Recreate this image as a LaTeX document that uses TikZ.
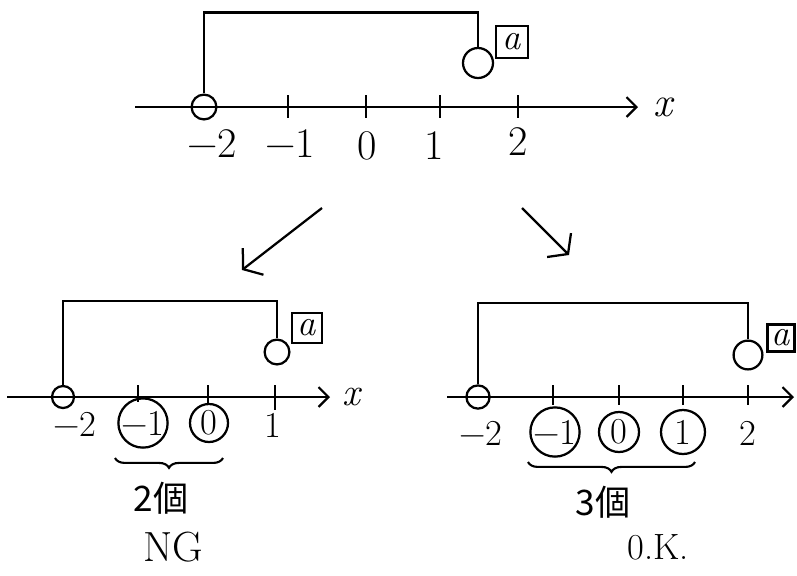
\documentclass[tikz,border=0pt]{standalone}
\usepackage{fontspec}
\usepackage{tikz}
\usetikzlibrary{positioning, arrows.meta, decorations.pathreplacing}
\newfontfamily\cjk{Noto Sans CJK JP}

\begin{document}
\begin{tikzpicture}[
  x=0.025cm, y=-0.025cm,
  line width=1.6pt,
  % --- Styles ---
  axisline/.style={-{Straight Barb[length=7pt, width=14pt, line width=1.6pt]}},
  tickmark/.style={line width=1.8pt},
  hole/.style={circle, draw, line width=1.6pt, inner sep=0pt, minimum size=#1},
  hole/.default=0.62cm,
  ring/.style={circle, draw, line width=1.6pt, inner sep=0pt,
    minimum size=#1, font=\fontsize{26}{26}\selectfont},
  abox/.style={rectangle, draw, line width=1.6pt, inner sep=0pt,
    minimum width=#1, minimum height=#1, font=\itshape\fontsize{26}{28}\selectfont},
  bracket/.style={line width=1.7pt},
  numlbl/.style={font=\fontsize{#1}{#1}\selectfont, inner sep=0pt},
  numlbl/.default=26,
  downarr/.style={-{Straight Barb[length=9pt, width=24pt, line width=1.6pt]}, line width=1.6pt},
  brace/.style={decorate, decoration={brace, mirror, amplitude=7pt}, line width=1.5pt},
]
\useasboundingbox[fill=white] (0,0) rectangle (797,575);

% === TOP LINE ===
\coordinate (T0) at (135,107);
\coordinate (T1) at (638,107);
\draw[axisline] (T0) -- (T1);
\node[numlbl=30, font=\itshape\fontsize{30}{30}\selectfont, right=10pt of T1] (Tx) {x};
\foreach \px in {288, 366, 440, 518}
  \draw[tickmark] (\px,95) -- (\px,118);
\node[hole=0.62cm] (Th) at (204,107) {};
\node[hole=0.75cm] (Ta) at (478,63) {};
\node[abox=0.8cm] (Tb) at (512,42) {a};
\draw[bracket] (Th.north) -- ++(0,-81) -| (Ta.north);
% labels
\node[numlbl=30] (Tl2) at (212,144) {−2};
\node[numlbl=30] (Tl1) at (290,144) {−1};
\node[numlbl=30] (Tl0) at (367,146) {0};
\node[numlbl=30] (Tp1) at (434,146) {1};
\node[numlbl=30] (Tp2) at (518,142) {2};

% === ARROWS ===
\coordinate (L0) at (322,208);
\coordinate (L1) at (242,270);
\coordinate (R0) at (522,208);
\coordinate (R1) at (569,255);
\draw[downarr] (L0) -- (L1);
\draw[downarr] (R0) -- (R1);

% === LEFT CASE ===
\coordinate (B0) at (7,397);
\coordinate (B1) at (330,397);
\draw[axisline] (B0) -- (B1);
\node[numlbl=28, font=\itshape\fontsize{28}{28}\selectfont, right=8pt of B1] (Bx) {x};
\draw[tickmark] (138,385) -- (138,402);
\draw[tickmark] (208,385) -- (208,404);
\draw[tickmark] (275,385) -- (275,410);
\node[hole=0.55cm] (Bh) at (63,397) {};
\node[hole=0.62cm] (Ba) at (277,352) {};
\node[abox=0.74cm] (Bb) at (307,328) {a};
\draw[bracket] (Bh.north) -- ++(0,-84) -| (Ba.north);
\node[numlbl] (Bl2) at (75,424) {−2};
\node[ring=1.1cm] (Bc1) at (143,423) {−1};
\node[ring=0.95cm] (Bc0) at (209,423) {0};
\node[numlbl] (Bp1) at (273,425) {1};
\draw[brace] (115,458) -- (223,458);
\node[numlbl, font=\cjk\fontsize{25}{26}\selectfont] (Bn) at (161,498) {2個};
\node[numlbl=30] (Bng) at (173,547) {NG};

% === RIGHT CASE ===
\coordinate (C0) at (447,397);
\coordinate (C1) at (794,397);
\draw[axisline] (C0) -- (C1);
\foreach \px in {553, 619, 683, 748}
  \draw[tickmark] (\px,385) -- (\px,405);
\node[hole=0.58cm] (Ch) at (478,397) {};
\node[hole=0.72cm] (Ca) at (748,355) {};
\node[abox=0.68cm] (Cb) at (781,338) {a};
\draw[bracket] (Ch.north) -- ++(0,-81) -| (Ca.north);
\node[numlbl] (Cl2) at (481,433) {−2};
\node[ring=1.15cm] (Cc1) at (555,432) {−1};
\node[ring=1.0cm] (Cc0) at (619,432) {0};
\node[ring=1.1cm] (Cp1) at (683,432) {1};
\node[numlbl] (Cp2) at (748,433) {2};
\draw[brace] (528,462) -- (695,462);
\node[numlbl, font=\cjk\fontsize{25}{26}\selectfont] (Cn) at (603,502) {3個};
\node[numlbl=26] (Cok) at (658,547) {0.K.};
\end{tikzpicture}
\end{document}
